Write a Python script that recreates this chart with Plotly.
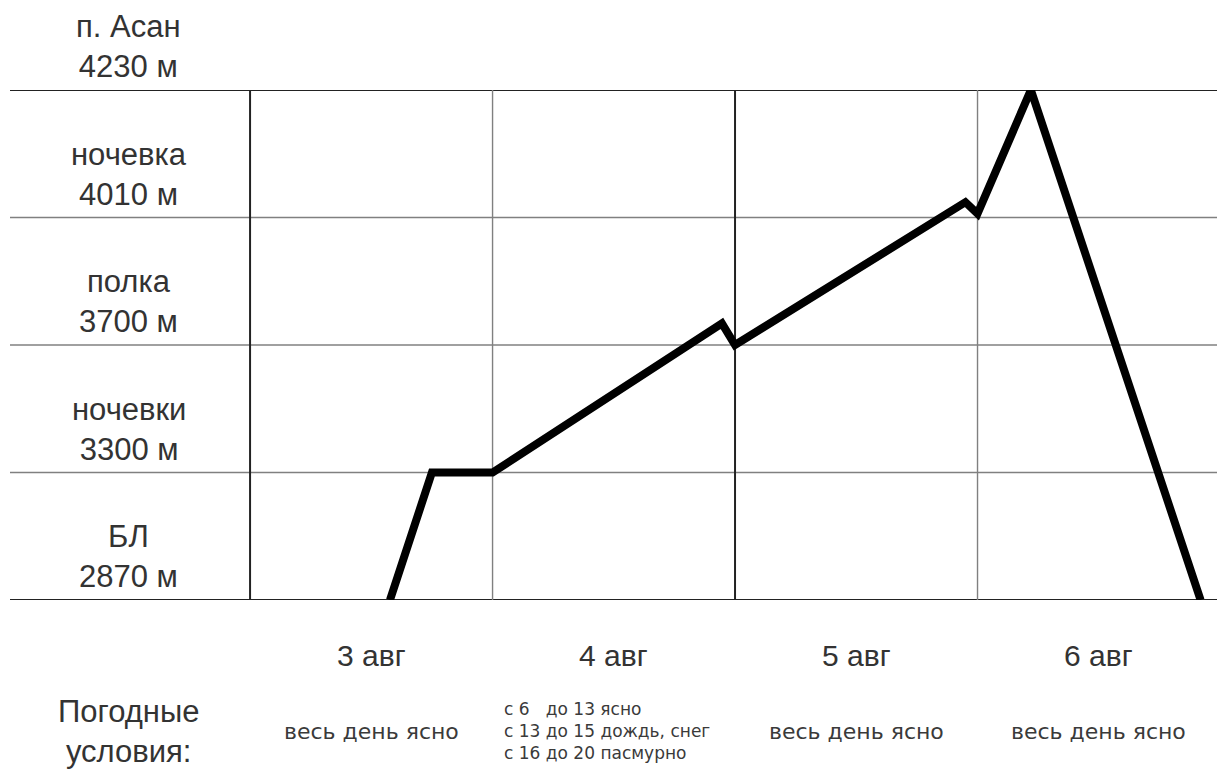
import plotly.graph_objects as go

# Elevation levels (drawn equally spaced, as in the reference)
level_names = ["БЛ", "ночевки", "полка", "ночевка", "п. Асан"]
level_heights = ["2870 м", "3300 м", "3700 м", "4010 м", "4230 м"]

# Days
days = ["3 авг", "4 авг", "5 авг", "6 авг"]
weather = [
    "весь день ясно",
    "с 6   до 13 ясно<br>с 13 до 15 дождь, снег<br>с 16 до 20 пасмурно",
    "весь день ясно",
    "весь день ясно",
]

# Route: x in days (0 = start of 3 авг), y = level index
route_x = [0.577, 0.75, 1.0, 1.946, 2.0, 2.95, 3.0, 3.22, 3.92]
route_y = [0, 1, 1, 2.17, 2.0, 3.12, 3.03, 4, 0]

FONT = "Liberation Sans, Arial, sans-serif"
FONT2 = "DejaVu Sans, Verdana, sans-serif"
TXT = "#333333"

fig = go.Figure()

XMIN, XMAX = -0.99, 4.0
PLOT_H = 510.0  # plot area height in px

def py(pix_below_bottom):
    return -pix_below_bottom / PLOT_H

shapes = []
for i in range(len(level_names)):
    dark = i in (0, len(level_names) - 1)
    shapes.append(dict(type="line", xref="x", yref="y", x0=XMIN, x1=XMAX, y0=i, y1=i,
                       line=dict(color="#222222" if dark else "#808080", width=2.2 if dark else 1.6),
                       layer="below"))
for d in range(len(days)):
    dark = d % 2 == 0
    shapes.append(dict(type="line", xref="x", yref="y", x0=d, x1=d, y0=0, y1=len(level_names) - 1,
                       line=dict(color="#222222" if dark else "#808080", width=2 if dark else 1.4),
                       layer="below"))

fig.add_trace(go.Scatter(x=route_x, y=route_y, mode="lines",
                         line=dict(color="black", width=8),
                         cliponaxis=False, hoverinfo="skip", showlegend=False))

ann = []
for i, (n, h) in enumerate(zip(level_names, level_heights)):
    ann.append(dict(x=-0.5, y=i, xref="x", yref="y", yanchor="bottom", yshift=4,
                    text=f"{n}<br>{h}", showarrow=False,
                    font=dict(family=FONT, size=31, color=TXT)))
for d, (day, w) in enumerate(zip(days, weather)):
    ann.append(dict(x=d + 0.5, y=py(55), xref="x", yref="paper", yanchor="middle",
                    text=day, showarrow=False,
                    font=dict(family=FONT, size=30, color=TXT)))
    small = "<br>" in w
    ann.append(dict(x=d + 0.5 if not small else d + 0.04, y=py(131), xref="x", yref="paper",
                    xanchor="center" if not small else "left", yanchor="middle",
                    align="left", text=w, showarrow=False,
                    font=dict(family=FONT2, size=22 if not small else 17, color="#3a3a3a")))
ann.append(dict(x=-0.5, y=py(131), xref="x", yref="paper", yanchor="middle",
                text="Погодные<br>условия:", showarrow=False,
                font=dict(family=FONT, size=31, color=TXT)))

fig.update_layout(
    width=1225, height=772,
    margin=dict(l=2, r=13, t=82, b=180),
    paper_bgcolor="white", plot_bgcolor="white",
    xaxis=dict(range=[XMIN, XMAX], visible=False, fixedrange=True),
    yaxis=dict(range=[0, 4], visible=False, fixedrange=True),
    shapes=shapes, annotations=ann, showlegend=False,
)

fig.write_html("out.html")
